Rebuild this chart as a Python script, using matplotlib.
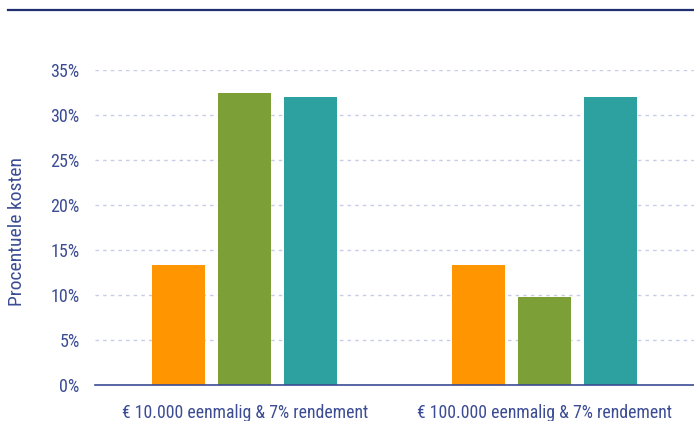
import matplotlib
matplotlib.use("Agg")
import matplotlib.pyplot as plt
from matplotlib.lines import Line2D
from matplotlib.ticker import FuncFormatter
from matplotlib import font_manager

# data
categories = ["€ 10.000 eenmalig & 7% rendement", "€ 100.000 eenmalig & 7% rendement"]
serie_oranje = [0.133, 0.133]
serie_groen = [0.325, 0.098]
serie_teal = [0.320, 0.320]
yticks = [0, 0.05, 0.10, 0.15, 0.20, 0.25, 0.30, 0.35]

# condensed font if one is around, else a plain sans
names = set(f.name for f in font_manager.fontManager.ttflist)
fam = "Liberation Sans"
xsize, ysize, lsize = 11, 12, 12
for cand in ["Roboto Condensed", "Open Sans Condensed", "Liberation Sans Narrow", "DejaVu Sans Condensed"]:
    if cand in names:
        fam = cand
        xsize, ysize, lsize = 12.8, 13, 14
        break
plt.rcParams["font.family"] = [fam, "DejaVu Sans"]

navy = "#3b4c94"
W, H = 694, 421
fig = plt.figure(figsize=(W / 100, H / 100), dpi=100)
ax = fig.add_axes([95 / W, (H - 385) / H, (W - 95) / W, (385 - 70) / H])

x = list(range(len(categories)))
bw = 0.177
off = 0.22
colors = ["#ff9500", "#7d9f37", "#2ca19f"]
for i, serie in enumerate([serie_oranje, serie_groen, serie_teal]):
    ax.bar([v + (i - 1) * off for v in x], serie, width=bw, color=colors[i], zorder=3)

ax.set_xlim(-0.5, 1.5)
ax.set_ylim(0, 0.35)
ax.set_yticks(yticks)
ax.yaxis.set_major_formatter(FuncFormatter(lambda v, p: f"{round(v * 100)}%"))
ax.set_xticks(x)
ax.set_xticklabels(categories)
ax.tick_params(axis="both", length=0, colors=navy)
ax.tick_params(axis="x", pad=14, labelsize=xsize)
ax.tick_params(axis="y", pad=11, labelsize=ysize)
ax.grid(axis="y", color="#c9cce6", linestyle=(0, (2.5, 3)), linewidth=1, zorder=0)
for s in ["top", "right", "left"]:
    ax.spines[s].set_visible(False)
ax.spines["bottom"].set_color(navy)
ax.spines["bottom"].set_linewidth(1.2)
ax.spines["bottom"].set_zorder(4)
ax.set_ylabel("Procentuele kosten", color=navy, fontsize=lsize)
ax.yaxis.set_label_coords(-69 / 599, 0.486)

fig.add_artist(Line2D([8 / W, 1], [1 - 9.5 / H, 1 - 9.5 / H], color="#1f2f70", linewidth=1.6))

fig.savefig("out.png", dpi=100)
